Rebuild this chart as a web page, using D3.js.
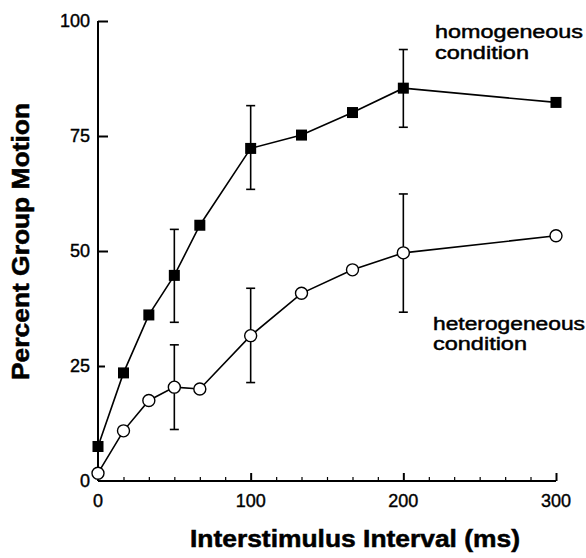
<!DOCTYPE html>
<html>
<head>
<meta charset="utf-8">
<script src="https://cdn.jsdelivr.net/npm/d3@7"></script>
<style>
  html, body { margin: 0; padding: 0; background: #fff; }
  svg { display: block; }
  text { font-family: "Liberation Sans", Arial, Helvetica, sans-serif; fill: #000; }
</style>
</head>
<body>
<svg id="chart" width="586" height="558"></svg>
<script>
// ---- Data ----
const isi = [0, 16.7, 33.3, 50, 66.7, 100, 133.3, 166.7, 200, 300];
const homogeneous = [7.5, 23.5, 36.1, 44.7, 55.6, 72.3, 75.2, 80.1, 85.4, 82.3];
const heterogeneous = [1.7, 10.9, 17.5, 20.4, 20.0, 31.6, 40.8, 45.9, 49.6, 53.3];
// error bars: [x, low, high]
const homErr = [[50, 34.5, 54.7], [100, 63.4, 81.6], [200, 76.9, 93.8]];
const hetErr = [[50, 11.2, 29.6], [100, 21.4, 41.9], [200, 36.7, 62.4]];
const yTicks = [0, 25, 50, 75, 100];
const xMajorTicks = [0, 100, 200, 300];
const xMinorTicks = [16.7, 33.3, 50, 66.7, 83.3, 116.7, 133.3, 150, 166.7, 183.3, 216.7, 233.3, 250, 266.7, 283.3];

const svg = d3.select("#chart");
const x = d3.scaleLinear().domain([0, 300]).range([98, 556]);
const y = d3.scaleLinear().domain([0, 100]).range([481, 21]);

// ---- Axes ----
const yAxis = d3.axisRight(y).tickValues(yTicks).tickSize(9).tickFormat("");
const gy = svg.append("g").attr("transform", `translate(${x(0)},0)`).call(yAxis);
gy.select(".domain").attr("d", `M0,${y(0)}V${y(100)}`).attr("stroke", "#000").attr("stroke-width", 2);
gy.selectAll(".tick line").attr("stroke", "#000").attr("stroke-width", 2)
  .attr("x2", d => d === 0 ? 0 : (d === 25 ? 7 : 10));

svg.append("g").selectAll("text").data(yTicks).join("text")
  .attr("x", x(0) - 8).attr("y", d => y(d)).attr("dy", "0.36em")
  .attr("text-anchor", "end").attr("font-size", 18)
  .attr("stroke", "#000").attr("stroke-width", 0.4).text(d => d);

const xAxisMajor = d3.axisTop(x).tickValues(xMajorTicks.filter(d => d > 0)).tickSize(8).tickFormat("");
const gx = svg.append("g").attr("transform", `translate(0,${y(0)})`).call(xAxisMajor);
gx.select(".domain").attr("d", `M${x(0)},0H${x(300)}`).attr("stroke", "#000").attr("stroke-width", 2);
gx.selectAll(".tick line").attr("stroke", "#000").attr("stroke-width", 2);

const xAxisMinor = d3.axisTop(x).tickValues(xMinorTicks).tickSize(4).tickFormat("");
const gxm = svg.append("g").attr("transform", `translate(0,${y(0)})`).call(xAxisMinor);
gxm.select(".domain").remove();
gxm.selectAll(".tick line").attr("stroke", "#000").attr("stroke-width", 1.2);

svg.append("g").selectAll("text").data(xMajorTicks).join("text")
  .attr("x", d => x(d)).attr("y", 507)
  .attr("text-anchor", "middle").attr("font-size", 18)
  .attr("stroke", "#000").attr("stroke-width", 0.4).text(d => d);

// ---- Axis titles ----
svg.append("text")
  .attr("x", 190).attr("y", 547)
  .attr("font-size", 23).attr("font-weight", "bold")
  .attr("stroke", "#000").attr("stroke-width", 0.5)
  .attr("textLength", 330).attr("lengthAdjust", "spacingAndGlyphs")
  .text("Interstimulus Interval (ms)");

svg.append("text")
  .attr("transform", "translate(29,380) rotate(-90)")
  .attr("x", 0).attr("y", 0)
  .attr("font-size", 23).attr("font-weight", "bold")
  .attr("stroke", "#000").attr("stroke-width", 0.5)
  .attr("textLength", 277).attr("lengthAdjust", "spacingAndGlyphs")
  .text("Percent Group Motion");

// ---- Lines ----
const line = d3.line().x(d => x(d[0])).y(d => y(d[1]));
const homData = isi.map((d, i) => [d, homogeneous[i]]);
const hetData = isi.map((d, i) => [d, heterogeneous[i]]);

svg.append("path").datum(homData).attr("d", line)
  .attr("fill", "none").attr("stroke", "#000").attr("stroke-width", 1.6);
svg.append("path").datum(hetData).attr("d", line)
  .attr("fill", "none").attr("stroke", "#000").attr("stroke-width", 1.6);

// ---- Error bars ----
function drawErr(data) {
  const g = svg.append("g").attr("stroke", "#000").attr("stroke-width", 1.6);
  g.selectAll(".v").data(data).join("line")
    .attr("x1", d => x(d[0])).attr("x2", d => x(d[0]))
    .attr("y1", d => y(d[1])).attr("y2", d => y(d[2]));
  g.selectAll(".lo").data(data).join("line")
    .attr("x1", d => x(d[0]) - 4.5).attr("x2", d => x(d[0]) + 4.5)
    .attr("y1", d => y(d[1])).attr("y2", d => y(d[1]));
  g.selectAll(".hi").data(data).join("line")
    .attr("x1", d => x(d[0]) - 4.5).attr("x2", d => x(d[0]) + 4.5)
    .attr("y1", d => y(d[2])).attr("y2", d => y(d[2]));
}
drawErr(homErr);
drawErr(hetErr);

// ---- Markers ----
const sq = 11;
svg.append("g").selectAll("rect").data(homData).join("rect")
  .attr("x", d => x(d[0]) - sq / 2).attr("y", d => y(d[1]) - sq / 2)
  .attr("width", sq).attr("height", sq).attr("fill", "#000");

svg.append("g").selectAll("circle").data(hetData).join("circle")
  .attr("cx", d => x(d[0])).attr("cy", d => y(d[1])).attr("r", 6)
  .attr("fill", "#fff").attr("stroke", "#000").attr("stroke-width", 1.4);

// ---- Annotations ----
const ann = svg.append("g").attr("font-size", 17.5)
  .attr("stroke", "#000").attr("stroke-width", 0.45);
ann.append("text").attr("x", 435).attr("y", 38)
  .attr("textLength", 148).attr("lengthAdjust", "spacingAndGlyphs").text("homogeneous");
ann.append("text").attr("x", 435).attr("y", 59)
  .attr("textLength", 94).attr("lengthAdjust", "spacingAndGlyphs").text("condition");
ann.append("text").attr("x", 433).attr("y", 330)
  .attr("textLength", 152).attr("lengthAdjust", "spacingAndGlyphs").text("heterogeneous");
ann.append("text").attr("x", 433).attr("y", 350)
  .attr("textLength", 94).attr("lengthAdjust", "spacingAndGlyphs").text("condition");
</script>
</body>
</html>
